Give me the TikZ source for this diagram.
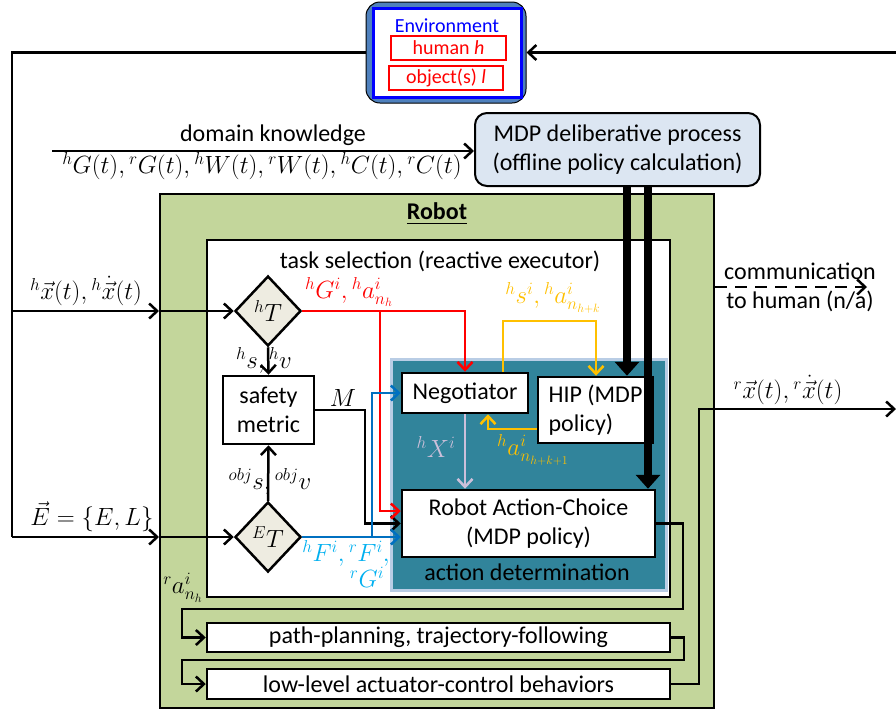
\documentclass[tikz,border=0pt]{standalone}
\usepackage{amsmath}
\usepackage{fontspec}
\setmainfont{Carlito}
\usetikzlibrary{arrows.meta,shapes.geometric,calc}
\definecolor{envblue}{HTML}{4F81BD}
\definecolor{mdpfill}{HTML}{DCE6F2}
\definecolor{robotgreen}{HTML}{C3D69B}
\definecolor{adteal}{HTML}{31849B}
\definecolor{tealborder}{HTML}{B9CDE5}
\definecolor{diafill}{HTML}{EEECE1}
\definecolor{gold}{HTML}{FFC000}
\definecolor{lineblue}{HTML}{0070C0}
\definecolor{lblblue}{HTML}{00B0F0}
\definecolor{lav}{HTML}{CCC0DA}
\begin{document}
\begin{tikzpicture}[x=1pt,y=-1pt,
  every node/.style={font=\fontsize{24}{29}\selectfont, inner sep=0pt},
  conn/.style={line width=2.5pt, -{Straight Barb[length=8pt,width=15pt]}},
  wire/.style={line width=2.5pt},
  thickarrow/.style={line width=8pt,-{Triangle[length=14pt,width=24pt]}},
  box/.style={draw, line width=2.5pt, fill=white, rectangle, align=center},
  dia/.style={diamond, draw, line width=2.5pt, fill=diafill, minimum width=66pt, minimum height=70pt, inner sep=0pt, aspect=1},
  envtext/.style={font=\fontsize{20}{24}\selectfont}
]
\useasboundingbox (0,0) rectangle (896,713);

% Environment
\node[draw=black, line width=1pt, fill=envblue, rounded corners=14pt, minimum width=160pt, minimum height=101pt] (envout) at (446,52.5) {};
\node[draw=blue, line width=3pt, fill=white, minimum width=148pt, minimum height=89pt] (envin) at (447,52.5) {};
\node[envtext, text=blue] (envtxt) at (447,26) {Environment};
\node[envtext, draw=red, line width=2.5pt, minimum width=115pt, minimum height=24pt, text=red] (human) at (448.5,48) {human \textit{h}};
\node[envtext, draw=red, line width=2.5pt, minimum width=114pt, minimum height=24pt, text=red] (obj) at (446,78) {object(s) \textit{l}};

% MDP
\node[draw, line width=2pt, fill=mdpfill, rounded corners=12pt, minimum width=285pt, minimum height=73pt, align=center] (mdp) at (617.5,149.5) {MDP deliberative process\\(offline policy calculation)};

% Robot
\node[draw, line width=2pt, fill=robotgreen, minimum width=554pt, minimum height=514pt] (robot) at (437,451) {};
\node[font=\fontsize{24}{29}\selectfont\bfseries] (robotlbl) at (437,214) {\underline{Robot}};
\node[draw, line width=2.5pt, fill=white, minimum width=463pt, minimum height=357pt] (task) at (438.5,418.5) {};
\node (tasklbl) at (440,261) {task selection (reactive executor)};
\node[draw=tealborder, line width=3pt, fill=adteal, minimum width=275pt, minimum height=231pt] (ad) at (528.5,474.5) {};
\node (adlbl) at (527,572) {action determination};

\node[box, minimum width=126pt, minimum height=40pt] (neg) at (465,393) {Negotiator};
\node[box, minimum width=115pt, minimum height=66pt, align=left] (hip) at (595.5,410) {HIP (MDP\\policy)};
\node[box, minimum width=253pt, minimum height=67pt] (rac) at (528.5,523.5) {Robot Action-Choice\\(MDP policy)};
\node[box, minimum width=91pt, minimum height=68pt] (safe) at (268.5,410) {safety\\metric};
\node[box, minimum width=463pt, minimum height=29pt] (path) at (438.5,637.5) {path-planning, trajectory-following};
\node[box, minimum width=463pt, minimum height=30pt] (low) at (438.5,684) {low-level actuator-control behaviors};

\node[dia] (hT) at (268,311) {$^{h}T$};
\node[dia] (ET) at (268,537) {$^{E}T$};

% environment loop
\coordinate (rtop) at (896,52.5);
\draw[conn] (rtop) -- (envout.east);
\coordinate (lc2) at (12,537);
\draw[wire] (envout.west) -- (envout.west -| lc2) -- (lc2);
\coordinate (hxin) at (12,311);
\coordinate (hxmid) at (159,311);
\draw[conn] (hxin) -- (hxmid);
\draw[conn] (hxmid) -- (hT.west);
\coordinate (ein) at (12,537);
\coordinate (emid) at (159,537);
\draw[conn] (ein) -- (emid);
\draw[conn] (emid) -- (ET.west);

% domain knowledge
\coordinate (dk) at (52,151);
\draw[conn] (dk) -- (dk -| mdp.west);

% safety metric
\draw[conn] (hT.south) -- (safe.north);
\draw[conn] (ET.north) -- (safe.south);
\coordinate (mx) at (365,523.5);
\draw[conn] (safe.east) -| (mx) -- (rac.west |- mx);

% red
\draw[conn, red] (hT.east) -- (hT.east -| neg.north) -- (neg.north);
\coordinate (rb) at (380,311);
\coordinate (rb2) at (380,511);
\draw[conn, red] (rb) -- (rb2) -- (rb2 -| rac.west);

% blue
\draw[conn, lineblue] (ET.east) -- (ET.east -| rac.west);
\coordinate (bb) at (372,537);
\draw[conn, lineblue] (bb) -- (bb |- neg.west) -- (neg.west);

% yellow
\coordinate (y1) at (503,321);
\coordinate (y2) at (596,321);
\draw[conn, gold] (y1 |- neg.north) -- (y1) -- (y2) -- (y2 |- hip.north);
\coordinate (y3) at (488,429);
\draw[conn, gold] (hip.west |- y3) -- (y3) -- (y3 |- neg.south);

% lavender
\draw[conn, lav] (neg.south) -- (neg.south |- rac.north);

% thick policy arrows
\coordinate (t1) at (627,0);
\coordinate (t2) at (648,0);
\draw[thickarrow] (t1 |- mdp.south) -- (t1 |- hip.north);
\draw[thickarrow] (t2 |- mdp.south) -- (t2 |- rac.north);

% output chain
\coordinate (o1) at (683,609);
\coordinate (o2) at (182,637.5);
\draw[conn] (rac.east) -| (o1) -- (o1 -| o2) -- (o2) -- (path.west);
\coordinate (p1) at (684,660);
\coordinate (p2) at (182,684);
\draw[conn] (path.east) -| (p1) -- (p1 -| p2) -- (p2) -- (low.west);
\coordinate (q1) at (699,409);
\coordinate (qend) at (896,409);
\draw[conn] (low.east) -| (q1) -- (qend);

% communication
\coordinate (dsh) at (867,287);
\draw[conn, dash pattern=on 12pt off 8pt] (robot.east |- dsh) -- (dsh);

% labels
\node (lhx) at (86,291) {${}^{h}\vec{x}(t), {}^{h}\dot{\vec{x}}(t)$};
\node (lE) at (92,517) {$\vec{E}=\{E,L\}$};
\node (ldk) at (273,135) {domain knowledge};
\node (lgw) at (262,166) {${}^{h}G(t), {}^{r}G(t), {}^{h}W(t), {}^{r}W(t), {}^{h}C(t), {}^{r}C(t)$};
\node[text=red] (lred) at (349,292) {${}^{h}G^{i}, {}^{h}a^{i}_{n_h}$};
\node (lhs) at (264,360) {${}^{h}s, {}^{h}v$};
\node (lobj) at (270,481) {${}^{obj}s, {}^{obj}v$};
\node (lM) at (343,398) {$M$};
\node[text=lblblue] (lf1) at (346,553) {${}^{h}F^{i}, {}^{r}F^{i},$};
\node[text=lblblue] (lf2) at (367,577) {${}^{r}G^{i}$};
\node[text=gold] (ly1) at (553,298) {${}^{h}s^{i}, {}^{h}a^{i}_{n_{h+k}}$};
\node[text=gold] (ly2) at (533,450) {${}^{h}a^{i}_{n_{h+k+1}}$};
\node[text=lav] (lX) at (436,447) {${}^{h}X^{i}$};
\node (lra) at (183,588) {${}^{r}a^{i}_{n_h}$};
\node (lrx) at (788,390) {${}^{r}\vec{x}(t), {}^{r}\dot{\vec{x}}(t)$};
\node[align=center] (lcomm) at (800,287) {communication\\to human (n/a)};
\end{tikzpicture}
\end{document}
